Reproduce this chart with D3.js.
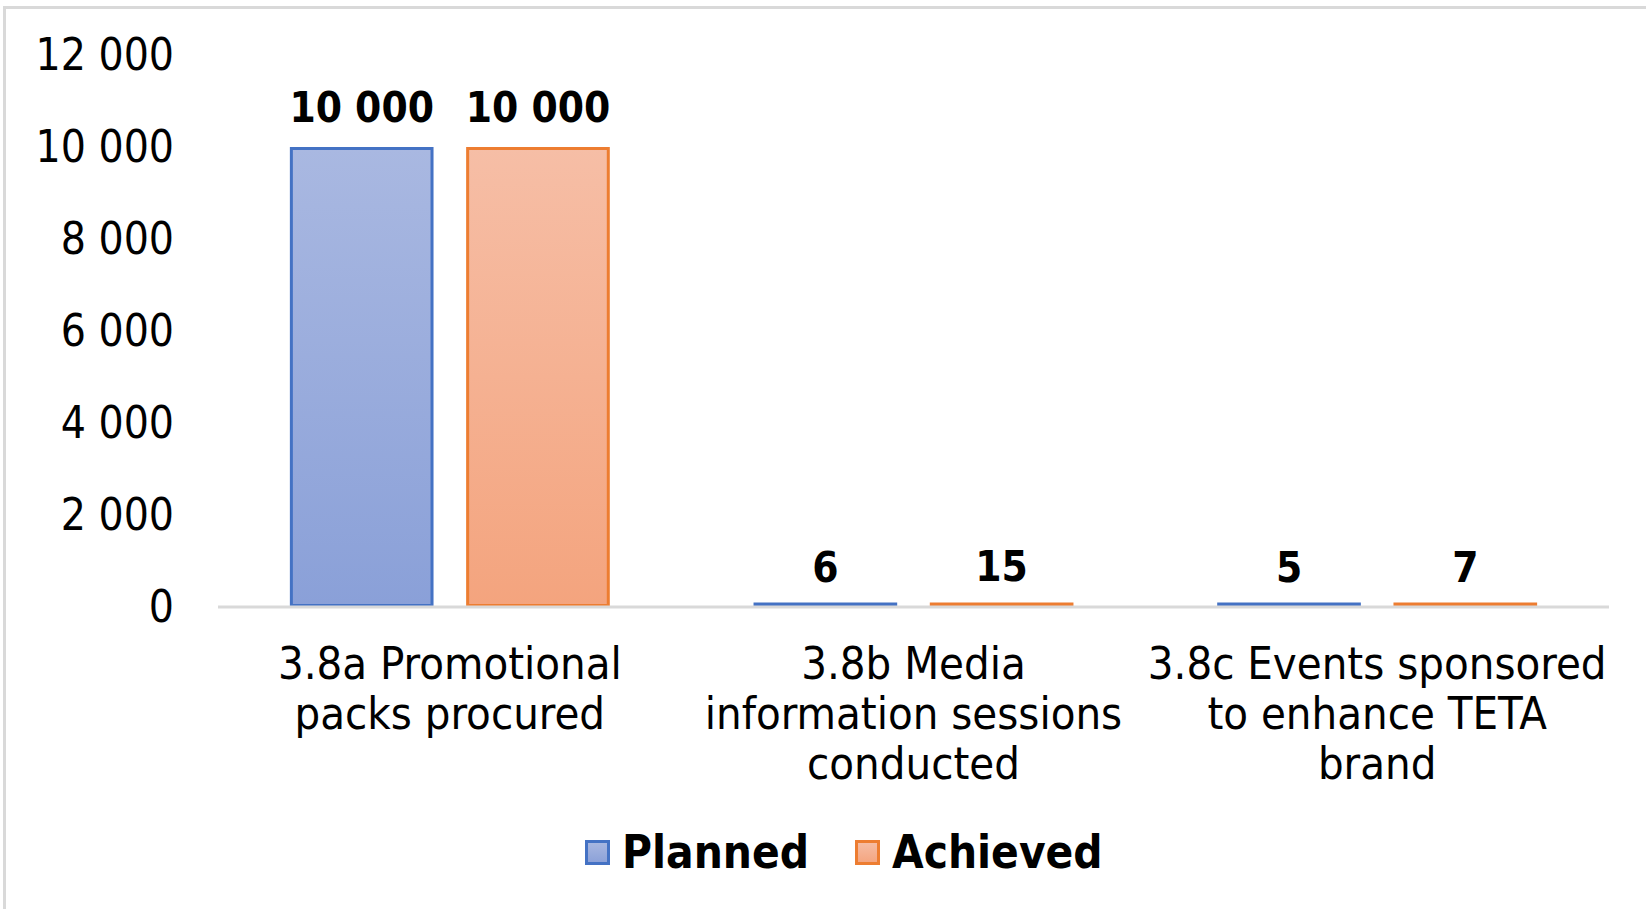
<!DOCTYPE html>
<html>
<head>
<meta charset="utf-8">
<script src="https://cdn.jsdelivr.net/npm/d3@7"></script>
<style>
  html, body { margin: 0; padding: 0; background: #ffffff; }
  svg { display: block; }
  text { font-family: "DejaVu Sans Condensed", "DejaVu Sans", sans-serif; font-stretch: condensed; }
</style>
</head>
<body>
<svg id="chart" width="1646" height="909"></svg>
<script>
// Output indicators, planned vs achieved
const categories = [
  ["3.8a Promotional", "packs procured"],
  ["3.8b Media", "information sessions", "conducted"],
  ["3.8c Events sponsored", "to enhance TETA", "brand"]
];
const seriesNames = ["Planned", "Achieved"];
const planned = [10000, 6, 5];
const achieved = [10000, 15, 7];
const yTicks = [0, 2000, 4000, 6000, 8000, 10000, 12000];

const W = 1646, H = 909;
const plot = { left: 218, right: 1609, top: 55, bottom: 607 };

const svg = d3.select("#chart");

// frame lines along the top and left edge
svg.append("rect")
  .attr("x", 4.5).attr("y", 7.5)
  .attr("width", W + 20).attr("height", H + 20)
  .attr("fill", "none").attr("stroke", "#d9d9d9").attr("stroke-width", 3);

const defs = svg.append("defs");
const grads = [
  { id: "gPlanned", top: "#a9b8e1", bottom: "#8aa0d8" },
  { id: "gAchieved", top: "#f6bea6", bottom: "#f4a47e" }
];
grads.forEach(g => {
  const lg = defs.append("linearGradient").attr("id", g.id)
    .attr("x1", 0).attr("y1", 0).attr("x2", 0).attr("y2", 1);
  lg.append("stop").attr("offset", "0%").attr("stop-color", g.top);
  lg.append("stop").attr("offset", "100%").attr("stop-color", g.bottom);
});
const fills = ["url(#gPlanned)", "url(#gAchieved)"];
const strokes = ["#4472c4", "#ed7d31"];

const catIdx = d3.range(categories.length);
const x0 = d3.scaleBand().domain(catIdx).range([plot.left, plot.right]).paddingInner(0).paddingOuter(0);
const x1 = d3.scaleBand().domain(d3.range(seriesNames.length))
  .range([x0.bandwidth() * 0.155, x0.bandwidth() * 0.845]).paddingInner(0.185);
const y = d3.scaleLinear().domain([0, 12000]).range([plot.bottom, plot.top]);

const fmt = v => d3.format(",")(v).replace(/,/g, " ");

// y axis labels
const yAxis = d3.axisLeft(y).tickValues(yTicks).tickSize(0).tickPadding(0).tickFormat(fmt);
const yg = svg.append("g").attr("transform", "translate(174,0)").call(yAxis);
yg.select(".domain").remove();
yg.selectAll("text")
  .attr("font-size", 44).attr("fill", "#000").attr("dy", "0.34em")
  .style("font-family", '"DejaVu Sans Condensed", "DejaVu Sans", sans-serif');

// bars
const seriesData = [planned, achieved];
const groups = svg.append("g").selectAll("g")
  .data(catIdx).join("g")
  .attr("transform", i => `translate(${x0(i)},0)`);

const barTop = d => Math.min(y(d.v) + 1.5, y(0) - 3);
groups.selectAll("rect")
  .data(i => seriesData.map((s, k) => ({ k, v: s[i] })))
  .join("rect")
  .attr("x", d => x1(d.k) + 1.5)
  .attr("width", x1.bandwidth() - 3)
  .attr("y", barTop)
  .attr("height", d => y(0) - 1.5 - barTop(d))
  .attr("fill", d => fills[d.k])
  .attr("stroke", d => strokes[d.k])
  .attr("stroke-width", 3);

// value labels
groups.selectAll("text.val")
  .data(i => seriesData.map((s, k) => ({ k, v: s[i] })))
  .join("text").attr("class", "val")
  .attr("x", d => x1(d.k) + x1.bandwidth() / 2)
  .attr("y", d => y(d.v) - 40)
  .attr("dy", "0.36em")
  .attr("text-anchor", "middle")
  .attr("font-size", 42).attr("font-weight", "bold").attr("fill", "#000")
  .text(d => fmt(d.v));

// x axis line
svg.append("line")
  .attr("x1", plot.left).attr("x2", plot.right)
  .attr("y1", y(0)).attr("y2", y(0))
  .attr("stroke", "#d9d9d9").attr("stroke-width", 3);

// category labels
const xAxis = d3.axisBottom(x0).tickSize(0).tickFormat(() => "");
const xg = svg.append("g").attr("transform", `translate(0,${y(0)})`).call(xAxis);
xg.select(".domain").remove();
xg.selectAll(".tick").each(function(i) {
  const t = d3.select(this).append("text")
    .attr("text-anchor", "middle").attr("font-size", 45).attr("fill", "#000");
  categories[i].forEach((line, j) => {
    t.append("tspan").attr("x", 0).attr("y", 56 + j * 50).attr("dy", "0.36em").text(line);
  });
});

// legend
const legendItems = [
  { name: seriesNames[0], x: 585 },
  { name: seriesNames[1], x: 855 }
];
const lg = svg.append("g");
legendItems.forEach((it, k) => {
  lg.append("rect")
    .attr("x", it.x + 1.5).attr("y", 840 + 1.5)
    .attr("width", 22).attr("height", 22)
    .attr("fill", fills[k]).attr("stroke", strokes[k]).attr("stroke-width", 3);
  lg.append("text")
    .attr("x", it.x + 37).attr("y", 852).attr("dy", "0.36em")
    .attr("font-size", 45.5).attr("font-weight", "bold").attr("fill", "#000")
    .text(it.name);
});
</script>
</body>
</html>
